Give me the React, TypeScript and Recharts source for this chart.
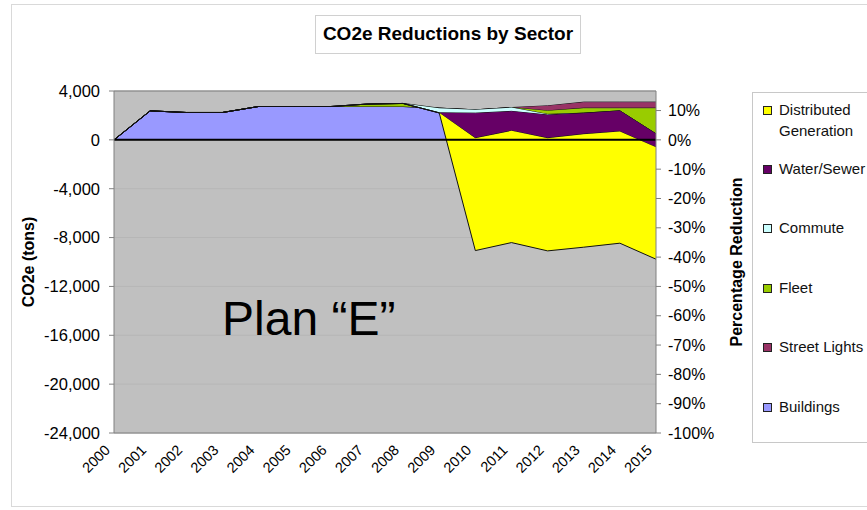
import React from 'react';
import { AreaChart, Area, XAxis, YAxis, CartesianGrid, ReferenceLine, Legend } from 'recharts';

const FONT = '"Liberation Sans", Arial, Helvetica, sans-serif';

const years = ['2000', '2001', '2002', '2003', '2004', '2005', '2006', '2007', '2008', '2009', '2010', '2011', '2012', '2013', '2014', '2015'];

const buildings = [0, 2375, 2240, 2240, 2730, 2730, 2730, 2730, 2730, 2596, 2457, 2645, 2785, 3088, 3088, 3088];
const streetLights = [0, 0, 0, 0, 0, 0, 0, 0, 0, 0, 0, 0, -410, -492, -492, -492];
const fleet = [0, 0, 0, 0, 0, 0, 0, 200, 250, 0, 0, 0, -287, -409, -221, -2105];
const commute = [0, 0, 0, 0, 0, 0, 0, 0, 0, -385, -270, -311, -50, 0, 0, 0];
const waterSewer = [0, 0, 0, 0, 0, 0, 0, 0, 0, 0, -2048, -1597, -1899, -1720, -1695, -1105];
const distributedGeneration = [0, 0, 0, 0, 0, 0, 0, 0, 0, 0, -9204, -9147, -9229, -9255, -9140, -9156];

const leftTicks = [4000, 0, -4000, -8000, -12000, -16000, -20000, -24000];
const rightTicks = [0.1, 0, -0.1, -0.2, -0.3, -0.4, -0.5, -0.6, -0.7, -0.8, -0.9, -1];

const series = [
  { key: 'buildings', name: 'Buildings', lines: ['Buildings'], color: '#9999FF', values: buildings },
  { key: 'streetLights', name: 'Street Lights', lines: ['Street Lights'], color: '#993366', values: streetLights },
  { key: 'fleet', name: 'Fleet', lines: ['Fleet'], color: '#99CC00', values: fleet },
  { key: 'commute', name: 'Commute', lines: ['Commute'], color: '#CCFFFF', values: commute },
  { key: 'waterSewer', name: 'Water/Sewer', lines: ['Water/Sewer'], color: '#660066', values: waterSewer },
  { key: 'distributedGeneration', name: 'Distributed Generation', lines: ['Distributed', 'Generation'], color: '#FFFF00', values: distributedGeneration },
];

const data = years.map((year, i) => {
  const row: Record<string, any> = { year };
  series.forEach((s) => {
    row[s.key] = s.values[i];
  });
  return row;
});

const YearTick = (props: any) => {
  const { x, y, payload } = props;
  const ax = x - 3;
  const ay = y + 18;
  return (
    <text x={ax} y={ay} transform={`rotate(-45, ${ax}, ${ay})`} textAnchor="end" fontSize={14.5} fill="#000" fontFamily={FONT}>
      {payload.value}
    </text>
  );
};

const renderLegend = () => {
  const items = [...series].reverse();
  return (
    <div
      style={{
        position: 'relative',
        width: '100%',
        height: '100%',
        border: '1px solid #c8c8c8',
        boxSizing: 'border-box',
        background: '#fff',
        fontFamily: FONT,
      }}
    >
      {items.map((s, i) => (
        <div
          key={s.key}
          style={{ position: 'absolute', left: 10, top: 17 + 59.4 * i - 11.5, display: 'flex', alignItems: 'flex-start' }}
        >
          <span
            style={{
              display: 'inline-block',
              width: 7,
              height: 7,
              marginTop: 7,
              background: s.color,
              border: '1px solid #222',
              flex: '0 0 auto',
            }}
          />
          <span style={{ marginLeft: 7, fontSize: 15, lineHeight: '21px', color: '#111', whiteSpace: 'nowrap' }}>
            {s.lines.map((l, j) => (
              <div key={j}>{l}</div>
            ))}
          </span>
        </div>
      ))}
    </div>
  );
};

export default function App() {
  return (
    <div
      style={{
        position: 'absolute',
        left: 0,
        top: 0,
        width: 867,
        height: 510,
        overflow: 'hidden',
        background: '#fff',
        fontFamily: FONT,
      }}
    >
      <AreaChart width={867} height={510} data={data} margin={{ top: 91, right: 131, bottom: 17, left: 0 }} stackOffset="none">
        <CartesianGrid yAxisId="left" horizontal vertical={false} fill="#C0C0C0" stroke="#b6b6b6" />
        <XAxis
          dataKey="year"
          height={60}
          interval={0}
          tick={<YearTick />}
          tickLine={false}
          tickSize={0}
          tickMargin={0}
          axisLine={{ stroke: '#808080' }}
        />
        <YAxis
          yAxisId="left"
          width={114}
          domain={[-24000, 4000]}
          ticks={leftTicks}
          allowDataOverflow
          interval={0}
          tickFormatter={(v: number) => v.toLocaleString('en-US')}
          tick={{ fontSize: 16.5, fill: '#000' }}
          tickSize={5}
          tickMargin={9}
          tickLine={{ stroke: '#808080' }}
          axisLine={{ stroke: '#808080' }}
        />
        <YAxis
          yAxisId="right"
          orientation="right"
          width={80}
          domain={[-1, 4000 / 24000]}
          ticks={rightTicks}
          allowDataOverflow
          interval={0}
          tickFormatter={(v: number) => `${Math.round(v * 100)}%`}
          tick={{ fontSize: 16, fill: '#000', textAnchor: 'start' }}
          tickSize={5}
          tickMargin={7}
          tickLine={{ stroke: '#808080' }}
          axisLine={{ stroke: '#808080' }}
        />
        {series.map((s) => (
          <Area
            key={s.key}
            yAxisId="left"
            type="linear"
            dataKey={s.key}
            name={s.name}
            stackId="sectors"
            fill={s.color}
            fillOpacity={1}
            stroke="#111"
            strokeWidth={1}
            dot={false}
            activeDot={false}
            isAnimationActive={false}
          />
        ))}
        <ReferenceLine yAxisId="left" y={0} stroke="#000" strokeWidth={2} />
        <ReferenceLine yAxisId="left" y={4000} stroke="#808080" strokeWidth={1} />
        <Legend
          layout="vertical"
          align="center"
          verticalAlign="middle"
          content={renderLegend}
          wrapperStyle={{ position: 'absolute', left: 752, top: 92, width: 130, height: 351, margin: 0 }}
        />
      </AreaChart>
      <svg
        width={867}
        height={510}
        style={{ position: 'absolute', left: 0, top: 0, pointerEvents: 'none' }}
        fontFamily={FONT}
      >
        <rect x={11.5} y={4.5} width={900} height={502} fill="none" stroke="#d9d9d9" />
        <rect x={315.5} y={15.5} width={265} height={38} fill="#fff" stroke="#d0d0d0" />
        <text x={448} y={40} textAnchor="middle" fontSize={19} fontWeight="bold" fill="#000">
          CO2e Reductions by Sector
        </text>
        <text x={34} y={262} transform="rotate(-90, 34, 262)" textAnchor="middle" fontSize={16} fontWeight="bold" fill="#000">
          CO2e (tons)
        </text>
        <text x={742} y={262} transform="rotate(-90, 742, 262)" textAnchor="middle" fontSize={16} fontWeight="bold" fill="#000">
          Percentage Reduction
        </text>
        <text x={222} y={335} fontSize={48} fill="#000">
          Plan “E”
        </text>
      </svg>
    </div>
  );
}
